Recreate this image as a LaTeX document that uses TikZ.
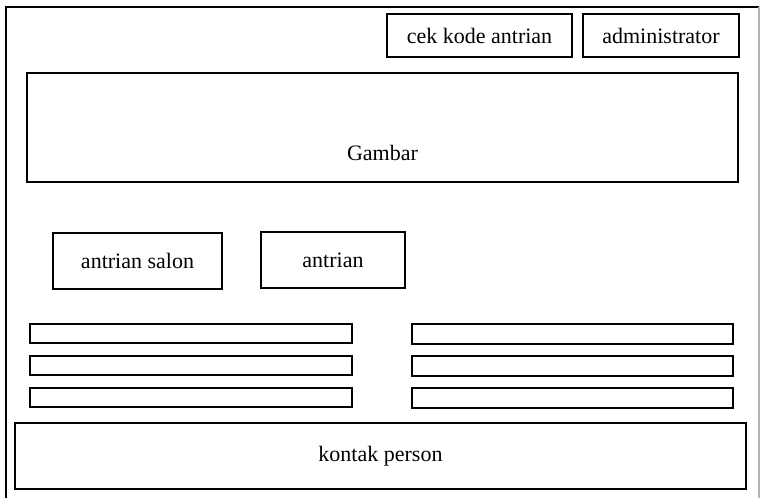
\documentclass[tikz,border=0pt]{standalone}
\usepackage{fontspec}
\setmainfont{Liberation Serif}
\usepackage{tikz}
\usetikzlibrary{positioning}
\tikzset{
  kotak/.style = {draw=black, rectangle, line width=1pt, inner sep=0pt,
    align=center, font=\fontsize{11}{13}\selectfont},% kotak menu
  bar/.style = {kotak, minimum height=9.75pt},% baris daftar
  bingkai/.style = {line width=1pt, draw=black}% bingkai halaman
}
\begin{document}
\begin{tikzpicture}[x=0.5pt,y=-0.5pt]
\useasboundingbox (0,0) rectangle (760,498);
% bingkai luar
\draw[bingkai] (5.5,498) -- (5.5,6.5) -- (759,6.5);
\draw[line width=1pt, gray!60] (759,6.5) -- (759,498);
% menu atas
\node [kotak, minimum width=92.5pt, minimum height=21.5pt] (cek) at (479.5,35.5) {cek kode antrian};
\node [kotak, minimum width=78pt, minimum height=21.5pt] (admin) at (661,35.5) {administrator};
% gambar
\node [kotak, minimum width=355.5pt, minimum height=54.5pt,
  label={[yshift=-12.5pt, font=\fontsize{11}{13}\selectfont]center:Gambar}] (gambar) at (382.5,127.5) {};
% tombol antrian
\node [kotak, minimum width=84.5pt, minimum height=28pt] (salon) at (137.5,261) {antrian salon};
\node [kotak, minimum width=72pt, minimum height=28pt] (antrian) at (333,260) {antrian};
% daftar kiri dan kanan
\foreach \i in {0,1,2}{
  \node [bar, minimum width=161pt] (kiri\i) at (191,{333.5+32*\i}) {};
  \node [bar, minimum width=160.5pt] (kanan\i) at (572.5,{334+32*\i}) {};
}
% kontak
\node [kotak, minimum width=365.5pt, minimum height=33pt] (kontak) at (380.5,456) {kontak person};
\end{tikzpicture}
\end{document}
